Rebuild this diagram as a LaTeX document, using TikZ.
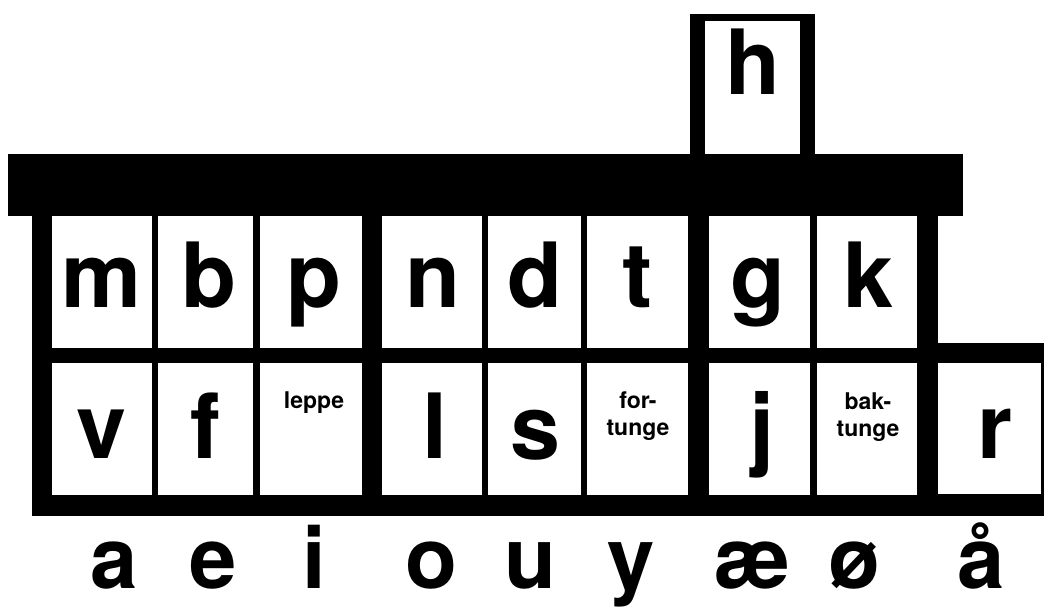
\documentclass[tikz,border=0pt]{standalone}
\usepackage{fontspec}
\setmainfont{TeX Gyre Heros}
\begin{document}
\begin{tikzpicture}[x=1pt,y=-1pt,
  big/.style={font=\fontsize{90}{90}\selectfont\bfseries, anchor=base, inner sep=0pt},
  vowel/.style={font=\fontsize{85}{85}\selectfont\bfseries, anchor=base, inner sep=0pt},
  lbl/.style={font=\fontsize{23}{27}\selectfont\bfseries, anchor=base, inner sep=0pt, align=center},
  cell/.style={fill=white}]
\useasboundingbox (0,0) rectangle (1044,606);
% black frame
\fill (8,154) rectangle (963,216);
\fill (690,14) rectangle (815,156);
\fill (32,215) rectangle (938,516);
\fill (938,343) rectangle (1044,516);
% white cells
\fill[cell] (705,21) rectangle (800,154);
\foreach \a/\b in {52/152,158/253,260/362,382/482,488/581,587/688,709/810,817/917}{
  \fill[cell] (\a,216) rectangle (\b,348);
  \fill[cell] (\a,363) rectangle (\b,495);
}
\fill[cell] (938,363) rectangle (1041,494);
% top row letters
\node[big] (h) at (753,94) {h};
\node[big] (m) at (102,307) {m};
\node[big] (b) at (209,307) {b};
\node[big] (p) at (314,307) {p};
\node[big] (n) at (433,307) {n};
\node[big] (d) at (535,307) {d};
\node[big] (t) at (637,307) {t};
\node[big] (g) at (758,307) {g};
\node[big] (k) at (869,307) {k};
% bottom row
\node[big] (v) at (102,458) {v};
\node[big] (f) at (205,458) {f};
\node[lbl] (leppe) at (314,408) {leppe};
\node[big] (l) at (435,458) {l};
\node[big] (s) at (536,459) {s};
\node[lbl] (fortunge) at (638,435) {for-\\tunge};
\node[big] (j) at (762,458) {j};
\node[lbl] (baktunge) at (868,436) {bak-\\tunge};
\node[big] (r) at (995,458) {r};
% vowels
\node[vowel] (a) at (114,588) {a};
\node[vowel] (e) at (213,588) {e};
\node[vowel] (i) at (314,588) {i};
\node[vowel] (o) at (431,588) {o};
\node[vowel] (u) at (530,588) {u};
\node[vowel] (y) at (631,588) {y};
\node[vowel] (ae) at (752,588) {æ};
\node[vowel] (oe) at (854,588) {ø};
\node[vowel] (aa) at (981,588) {å};
\end{tikzpicture}
\end{document}
